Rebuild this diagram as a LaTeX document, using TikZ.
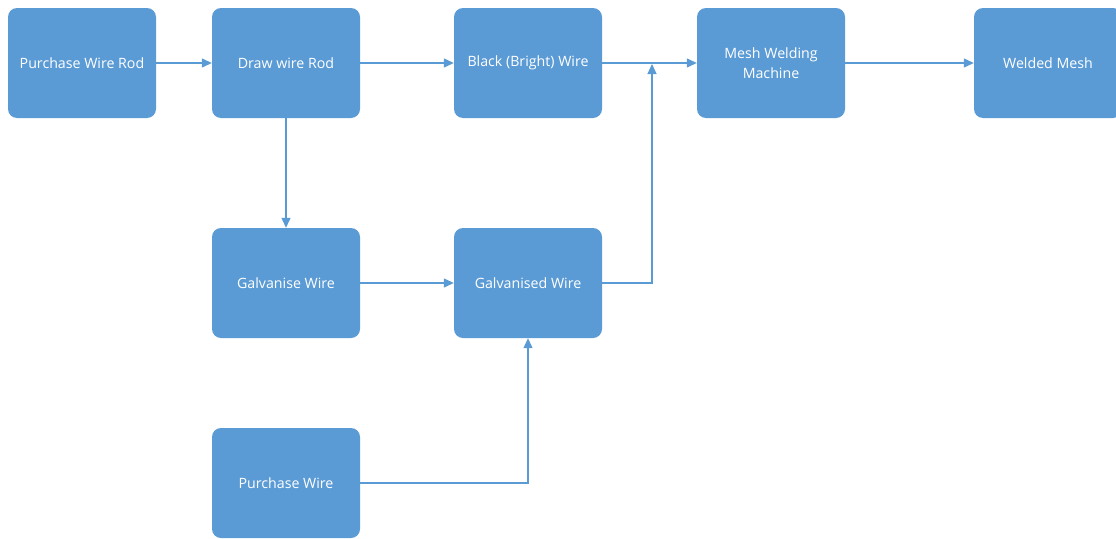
\documentclass[tikz,border=0pt]{standalone}
\usepackage{fontspec}
\setmainfont{Open Sans}
\usetikzlibrary{arrows.meta}
\definecolor{boxblue}{HTML}{5B9BD5}
\begin{document}
\begin{tikzpicture}[x=1pt, y=-1pt,
        stepbox/.style={draw=none, fill=boxblue, rounded corners=9pt,
            minimum width=148pt, minimum height=110pt, inner sep=2pt,
            text=white, align=center, font=\fontsize{14.2}{20}\selectfont},
        flow/.style={draw=boxblue, line width=1.2pt,
            -{Triangle[length=10pt, width=9pt]}}]
    \useasboundingbox (0, 0) rectangle (1116, 538);
    % top row
    \node [stepbox] (pwr) at (82, 63) {Purchase Wire Rod};
    \node [stepbox] (drawrod) at (286, 63) {Draw wire Rod};
    \node [stepbox] (black) at (528, 63) {Black (Bright) Wire};
    \node [stepbox] (mesh) at (771, 63) {Mesh Welding\\Machine};
    \node [stepbox] (welded) at (1048, 63) {Welded Mesh};
    % lower rows
    \node [stepbox] (galv) at (286, 283) {Galvanise Wire};
    \node [stepbox] (galvd) at (528, 283) {Galvanised Wire};
    \node [stepbox] (pw) at (286, 483) {Purchase Wire};
    \coordinate (join) at (652, 64);
    % connectors
    \draw [flow] (pwr) -- (drawrod);
    \draw [flow] (drawrod) -- (black);
    \draw [flow] (black) -- (mesh);
    \draw [flow] (mesh) -- (welded);
    \draw [flow] (drawrod) -- (galv);
    \draw [flow] (galv) -- (galvd);
    \draw [flow] (galvd.east) -| (join);
    \draw [flow] (pw.east) -| (galvd.south);
\end{tikzpicture}
\end{document}
